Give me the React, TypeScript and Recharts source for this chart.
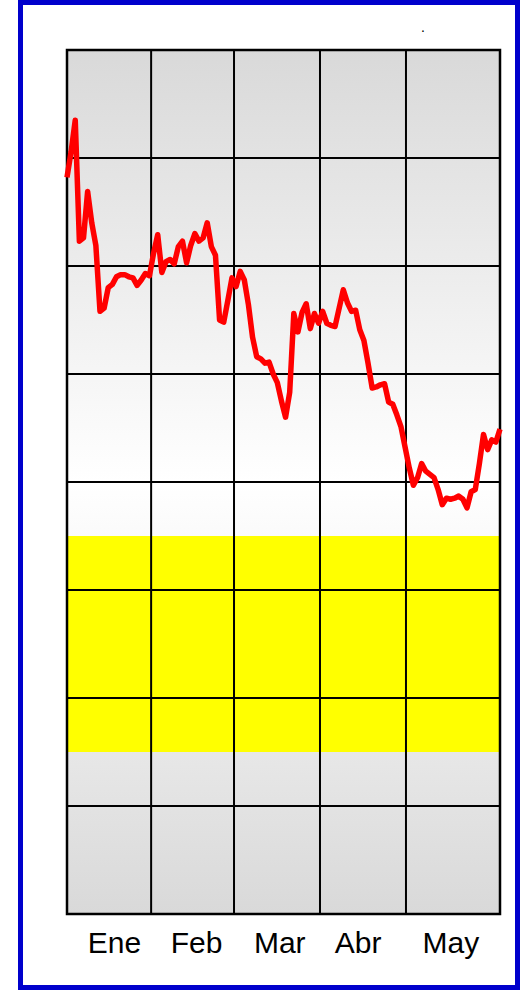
import React from "react"
import { LineChart, Line, XAxis, YAxis, CartesianGrid, ReferenceArea, ReferenceLine } from "recharts"

// daily closes, Ene..May (index = trading day)
const values = [
  682, 706, 735, 623, 626, 669, 640, 619, 558, 561,
  580, 583, 590, 592, 592, 590, 589, 582, 587, 593,
  591, 612, 629, 594, 604, 606, 602, 618, 623, 603,
  619, 630, 623, 626, 640, 618, 610, 550, 548, 568,
  589, 581, 595, 587, 564, 534, 516, 514, 510, 511,
  500, 492, 475, 460, 483, 556, 539, 557, 565, 542,
  556, 547, 558, 547, 545, 544, 561, 578, 566, 558,
  559, 541, 531, 510, 487, 488, 490, 491, 474, 472,
  462, 451, 432, 413, 397, 404, 417, 410, 407, 404,
  393, 379, 385, 384, 385, 387, 384, 376, 391, 393,
  417, 444, 430, 439, 437, 449,
]

const months = ["Ene", "Feb", "Mar", "Abr", "May"]
const monthCenters = [11.5, 31.4, 51.6, 70.6, 93.1]
const monthEdges = [20.4, 40.5, 61.35, 82.2]
const yTicks = [100, 200, 300, 400, 500, 600, 700]
const band = [150, 350]

const data = values.map((v, i) => ({ i, v }))
const last = values.length - 1

export default function App() {
  return (
    <div style={{ position: "absolute", left: 0, top: 0, width: 520, height: 991, background: "#fff" }}>
      <div
        style={{
          position: "absolute",
          left: 18,
          top: 0,
          width: 502,
          height: 990,
          border: "5px solid #0000cc",
          boxSizing: "border-box",
        }}
      />
      <span
        style={{
          position: "absolute",
          left: 421,
          top: 19,
          fontSize: 14,
          fontFamily: "Liberation Sans, Arial, sans-serif",
          color: "#000",
        }}
      >
        .
      </span>
      <div style={{ position: "absolute", left: 0, top: 0 }}>
        <LineChart width={520} height={991} data={data} margin={{ top: 50, right: 20, bottom: 37, left: 67 }}>
          <defs>
            <linearGradient id="bg" x1="0" y1="0" x2="0" y2="1">
              <stop offset="0%" stopColor="#d9d9d9" />
              <stop offset="50%" stopColor="#ffffff" />
              <stop offset="100%" stopColor="#d9d9d9" />
            </linearGradient>
          </defs>
          <CartesianGrid fill="url(#bg)" stroke="none" horizontal={false} vertical={false} />
          <XAxis
            dataKey="i"
            type="number"
            domain={[0, last]}
            ticks={monthCenters}
            tickFormatter={(_, idx) => months[idx]}
            interval={0}
            axisLine={false}
            tickLine={false}
            tickMargin={12}
            height={40}
            tick={{ fontSize: 30, fill: "#000", fontFamily: "Liberation Sans, Arial, sans-serif" }}
          />
          <YAxis hide domain={[0, 800]} ticks={yTicks} />
          <ReferenceArea y1={band[0]} y2={band[1]} x1={0} x2={last} fill="#ffff00" fillOpacity={1} stroke="none" />
          {yTicks.map((t) => (
            <ReferenceLine key={"h" + t} y={t} stroke="#000" strokeWidth={2} />
          ))}
          {monthEdges.map((e) => (
            <ReferenceLine key={"v" + e} x={e} stroke="#000" strokeWidth={2} />
          ))}
          <ReferenceArea x1={0} x2={last} y1={0} y2={800} fill="none" stroke="#000" strokeWidth={2.5} />
          <Line
            dataKey="v"
            type="linear"
            stroke="#ff0000"
            strokeWidth={5.5}
            strokeLinejoin="round"
            dot={false}
            activeDot={false}
            isAnimationActive={false}
          />
        </LineChart>
      </div>
    </div>
  )
}
